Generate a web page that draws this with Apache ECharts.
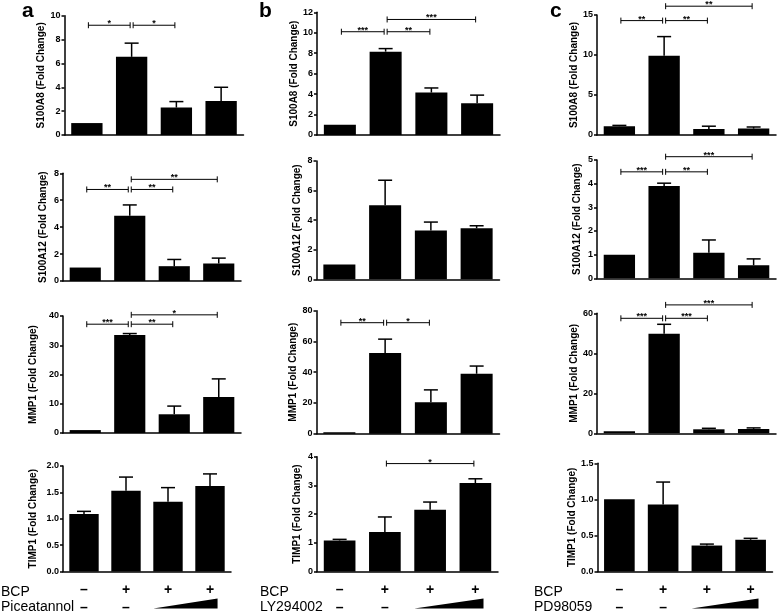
<!DOCTYPE html>
<html>
<head>
<meta charset="utf-8">
<script src="https://cdn.jsdelivr.net/npm/echarts@6/dist/echarts.min.js"></script>
<style>
html,body{margin:0;padding:0;background:#fff}
#main{width:778px;height:615px}
</style>
</head>
<body>
<div id="main"></div>
<script>
var genes = ['S100A8', 'S100A12', 'MMP1', 'TIMP1'];
var inhibitors = ['Piceatannol', 'LY294002', 'PD98059'];
var panelLetters = ['a', 'b', 'c'];
var groups = ['ctrl', 'BCP', 'BCP+low', 'BCP+high'];
var bcpRow = ['–', '+', '+', '+'];
var inhibRow = ['–', '–', '', ''];

// column a - Piceatannol
var a_S100A8 = [1.0, 6.55, 2.3, 2.85];
var a_S100A8_sem = [0, 1.15, 0.5, 1.15];
var a_S100A8_sig = [[0, 1, 9.2, '*'], [1, 2, 9.2, '*']];
var a_S100A12 = [1.0, 4.85, 1.1, 1.3];
var a_S100A12_sem = [0, 0.8, 0.5, 0.4];
var a_S100A12_sig = [[0, 1, 6.8, '**'], [1, 2, 6.8, '**'], [1, 3, 7.55, '**']];
var a_MMP1 = [1.0, 33.5, 6.4, 12.3];
var a_MMP1_sem = [0, 0.5, 2.8, 6.2];
var a_MMP1_sig = [[0, 1, 37.2, '***'], [1, 2, 37.2, '**'], [1, 3, 40.4, '*']];
var a_TIMP1 = [1.09, 1.53, 1.32, 1.62];
var a_TIMP1_sem = [0.05, 0.26, 0.27, 0.23];
var a_TIMP1_sig = [];

// column b - LY294002
var b_S100A8 = [1.0, 8.15, 4.15, 3.1];
var b_S100A8_sem = [0, 0.3, 0.45, 0.8];
var b_S100A8_sig = [[0, 1, 10.1, '***'], [1, 2, 10.1, '**'], [1, 3, 11.3, '***']];
var b_S100A12 = [1.0, 5.0, 3.3, 3.45];
var b_S100A12_sem = [0, 1.7, 0.57, 0.17];
var b_S100A12_sig = [];
var b_MMP1 = [1.0, 52.5, 20.5, 39];
var b_MMP1_sem = [0, 9, 8, 5];
var b_MMP1_sig = [[0, 1, 72.2, '**'], [1, 2, 72.2, '*']];
var b_TIMP1 = [1.08, 1.38, 2.15, 3.08];
var b_TIMP1_sem = [0.04, 0.52, 0.27, 0.15];
var b_TIMP1_sig = [[1, 3, 3.76, '*']];

// column c - PD98059
var c_S100A8 = [1.1, 9.9, 0.75, 0.8];
var c_S100A8_sem = [0.1, 2.4, 0.35, 0.2];
var c_S100A8_sig = [[0, 1, 14.3, '**'], [1, 2, 14.3, '**'], [1, 3, 16.1, '**']];
var c_S100A12 = [1.0, 3.9, 1.08, 0.55];
var c_S100A12_sem = [0, 0.12, 0.54, 0.27];
var c_S100A12_sig = [[0, 1, 4.5, '***'], [1, 2, 4.5, '**'], [1, 3, 5.14, '***']];
var c_MMP1 = [1.0, 49.8, 2.0, 2.2];
var c_MMP1_sem = [0, 4.7, 0.5, 0.5];
var c_MMP1_sig = [[0, 1, 57.5, '***'], [1, 2, 57.5, '***'], [1, 3, 64.2, '***']];
var c_TIMP1 = [1.0, 0.93, 0.36, 0.44];
var c_TIMP1_sem = [0, 0.31, 0.02, 0.02];
var c_TIMP1_sig = [];

// y axis ranges: [max, interval, decimals]
var a_axes = [[10, 2, 0], [8, 2, 0], [40, 10, 0], [2, 0.5, 1]];
var b_axes = [[12, 2, 0], [8, 2, 0], [80, 20, 0], [4, 1, 0]];
var c_axes = [[15, 5, 0], [5, 1, 0], [60, 20, 0], [1.5, 0.5, 1]];

var means = [
  [a_S100A8, a_S100A12, a_MMP1, a_TIMP1],
  [b_S100A8, b_S100A12, b_MMP1, b_TIMP1],
  [c_S100A8, c_S100A12, c_MMP1, c_TIMP1]
];
var sems = [
  [a_S100A8_sem, a_S100A12_sem, a_MMP1_sem, a_TIMP1_sem],
  [b_S100A8_sem, b_S100A12_sem, b_MMP1_sem, b_TIMP1_sem],
  [c_S100A8_sem, c_S100A12_sem, c_MMP1_sem, c_TIMP1_sem]
];
var sigs = [
  [a_S100A8_sig, a_S100A12_sig, a_MMP1_sig, a_TIMP1_sig],
  [b_S100A8_sig, b_S100A12_sig, b_MMP1_sig, b_TIMP1_sig],
  [c_S100A8_sig, c_S100A12_sig, c_MMP1_sig, c_TIMP1_sig]
];
var axes = [a_axes, b_axes, c_axes];

// layout (px): left, top, width, height, nameGap
var layout = [
  [[64.5, 15.7, 179, 119.3, 17], [63, 173.3, 178, 107.7, 15], [63, 316, 178, 117, 25], [63, 466, 168, 110, 25]],
  [[317, 12.3, 183, 122.7, 18], [316.5, 161, 183, 118.3, 14], [316.5, 310.7, 183, 123, 17], [317, 456.7, 181, 119.3, 15]],
  [[597, 15, 179, 120, 17], [597, 160, 179, 118.3, 15], [597, 313.3, 179, 120, 16], [597.5, 463.3, 175, 112.7, 15]]
];
var colX = [1, 260, 534];
var letterX = [22, 259, 550];

var FONT = 'Liberation Sans, Arial, Helvetica, sans-serif';

function errItem(params, api) {
  var s = api.value(2);
  if (!(s > 0)) return null;
  var base = api.coord([api.value(0), api.value(1)]);
  var tip = api.coord([api.value(0), api.value(1) + s]);
  var st = { stroke: '#000', lineWidth: 1.5 };
  return {
    type: 'group',
    children: [
      { type: 'line', shape: { x1: base[0], y1: base[1], x2: tip[0], y2: tip[1] }, style: st },
      { type: 'line', shape: { x1: tip[0] - 7, y1: tip[1], x2: tip[0] + 7, y2: tip[1] }, style: st }
    ]
  };
}

function makeBracket(labels) {
  return function (params, api) {
    var p1 = api.coord([api.value(0), api.value(2)]);
    var p2 = api.coord([api.value(1), api.value(2)]);
    var x1 = p1[0] + 1.5, x2 = p2[0] - 1.5, y = p1[1];
    var st = { stroke: '#000', lineWidth: 1 };
    return {
      type: 'group',
      children: [
        { type: 'line', shape: { x1: x1, y1: y, x2: x2, y2: y }, style: st },
        { type: 'line', shape: { x1: x1, y1: y - 3, x2: x1, y2: y + 3 }, style: st },
        { type: 'line', shape: { x1: x2, y1: y - 3, x2: x2, y2: y + 3 }, style: st },
        { type: 'text', x: (x1 + x2) / 2, y: y + 3,
          style: { text: labels[params.dataIndex], fill: '#000', font: 'bold 9px ' + FONT, align: 'center', verticalAlign: 'bottom' } }
      ]
    };
  };
}

function wedgeItem(params, api) {
  var p1 = api.coord([api.value(0), 0]);
  var p2 = api.coord([api.value(1), 0]);
  var cw = api.size([1, 0])[0];
  var xl = p1[0] - cw * 0.35, xr = p2[0] + cw * 0.18;
  return {
    type: 'polygon',
    shape: { points: [[xl, p1[1] + 37], [xr, p1[1] + 27], [xr, p1[1] + 37]] },
    style: { fill: '#000' }
  };
}

var grids = [], xAxes = [], yAxes = [], series = [], graphics = [];
for (var c = 0; c < 3; c++) {
  for (var r = 0; r < 4; r++) {
    var idx = grids.length;
    var L = layout[c][r];
    var ax = axes[c][r];
    grids.push({ left: L[0], top: L[1], width: L[2], height: L[3] });
    var bottomRow = r === 3;
    xAxes.push({
      type: 'category', gridIndex: idx, data: groups,
      axisLine: { lineStyle: { color: '#000', width: 1.5 } },
      axisTick: { alignWithLabel: true, length: 4, lineStyle: { color: '#000', width: 1.5 } },
      axisLabel: {
        show: bottomRow, interval: 0, margin: 11,
        formatter: function (v, i) {
          return '{p|' + bcpRow[i] + '}\n{m|' + (inhibRow[i] || ' ') + '}';
        },
        rich: {
          p: { fontSize: 14, fontWeight: 'bold', color: '#000', fontFamily: FONT, lineHeight: 16 },
          m: { fontSize: 14, fontWeight: 'bold', color: '#000', fontFamily: FONT, lineHeight: 16, padding: [3, 0, 0, 0] }
        }
      }
    });
    (function (dec) {
      yAxes.push({
        type: 'value', gridIndex: idx, min: 0, max: ax[0], interval: ax[1],
        name: genes[r] + ' (Fold Change)', nameLocation: 'middle', nameGap: L[4],
        nameTextStyle: { fontSize: 10, fontWeight: 'bold', color: '#000', fontFamily: FONT },
        splitLine: { show: false },
        axisLine: { show: true, lineStyle: { color: '#000', width: 1.5 } },
        axisTick: { show: true, length: 3, lineStyle: { color: '#000', width: 1.5 } },
        axisLabel: {
          fontSize: 9, fontWeight: 'bold', color: '#000', fontFamily: FONT, margin: 4,
          formatter: function (v) { return v.toFixed(dec); }
        }
      });
    })(ax[2]);
    series.push({
      type: 'bar', xAxisIndex: idx, yAxisIndex: idx, data: means[c][r],
      barWidth: '70%', itemStyle: { color: '#000' }, silent: true
    });
    series.push({
      type: 'custom', xAxisIndex: idx, yAxisIndex: idx, renderItem: errItem,
      encode: { x: 0, y: 1 }, z: 3, silent: true,
      data: means[c][r].map(function (m, k) { return [k, m, sems[c][r][k]]; })
    });
    var sg = sigs[c][r];
    if (sg.length) {
      series.push({
        type: 'custom', xAxisIndex: idx, yAxisIndex: idx, clip: false, silent: true,
        renderItem: makeBracket(sg.map(function (b) { return b[3]; })),
        encode: { x: [0, 1], y: 2 },
        data: sg.map(function (b) { return [b[0], b[1], b[2]]; })
      });
    }
    if (bottomRow) {
      series.push({
        type: 'custom', xAxisIndex: idx, yAxisIndex: idx, clip: false, silent: true,
        renderItem: wedgeItem, encode: { x: [0, 1] }, data: [[2, 3]]
      });
    }
  }
  graphics.push({ type: 'text', left: letterX[c], top: 1,
    style: { text: panelLetters[c], font: 'bold 21px ' + FONT, fill: '#000' } });
  graphics.push({ type: 'text', left: colX[c], top: 585,
    style: { text: 'BCP', font: '14px ' + FONT, fill: '#000' } });
  graphics.push({ type: 'text', left: colX[c], top: 600,
    style: { text: inhibitors[c], font: '14px ' + FONT, fill: '#000' } });
}

var myChart = echarts.init(document.getElementById('main'));
myChart.setOption({
  animation: false,
  backgroundColor: '#fff',
  grid: grids,
  xAxis: xAxes,
  yAxis: yAxes,
  series: series,
  graphic: graphics
});
</script>
</body>
</html>
